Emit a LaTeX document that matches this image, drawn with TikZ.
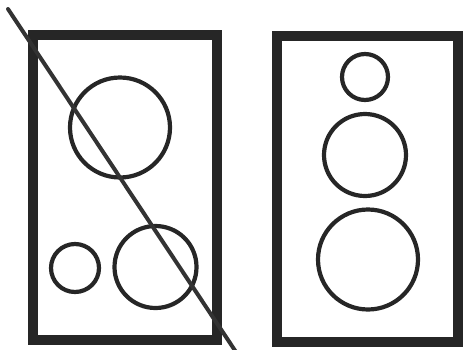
\documentclass[tikz,border=0pt]{standalone}
\begin{document}
\begin{tikzpicture}[x=1pt,y=-1pt,
  frame/.style={draw=black!85, line width=10pt},
  ring/.style={draw=black!85, line width=4.2pt},
  cross/.style={draw=black!80, line width=4pt, line cap=round}]
\useasboundingbox (0,0) rectangle (463,349);
% left panel
\draw[frame] (33,35) rectangle (217,340);
\draw[ring] (120,127.5) circle (50);
\draw[ring] (75,268) circle (24);
\draw[ring] (155.5,267) circle (41);
\coordinate (lineA) at (8,9);
\coordinate (lineB) at (236,352);
\draw[cross] (lineA) -- (lineB);
% right panel
\draw[frame] (277,35.5) rectangle (458,342);
\draw[ring] (365,77) circle (23);
\draw[ring] (365,155) circle (41);
\draw[ring] (368,259.5) circle (50);
\end{tikzpicture}
\end{document}
